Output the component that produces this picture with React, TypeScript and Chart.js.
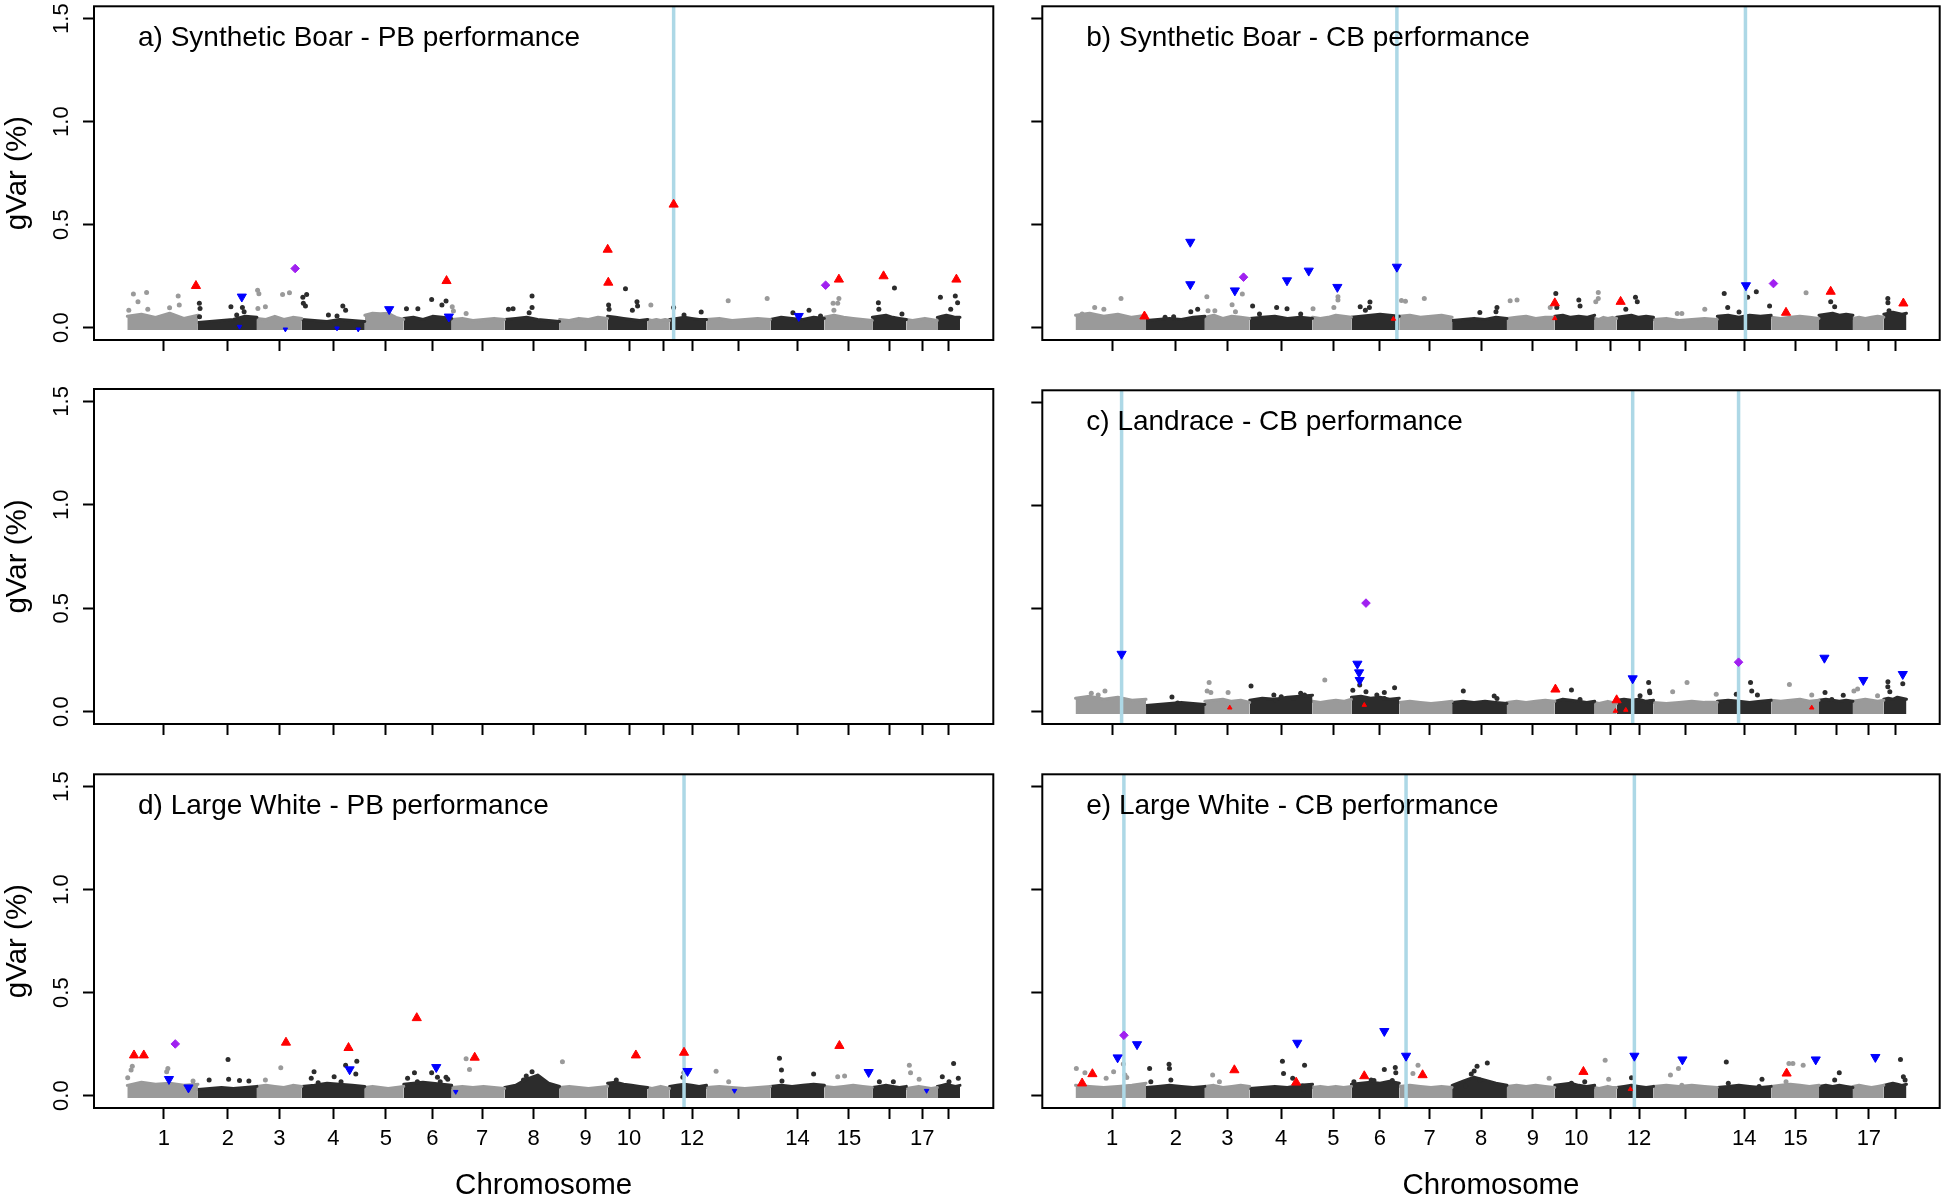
import React, { useEffect, useRef } from 'react';
import { Chart, registerables } from 'chart.js';

Chart.register(...registerables);

type Pt = [number, number];

const FONT = '"Liberation Sans", Arial, Helvetica, sans-serif';

// ---- axis definitions ----
const CHROMOSOMES = ['1', '2', '3', '4', '5', '6', '7', '8', '9', '10', '11', '12', '13', '14', '15', '16', '17', '18'];
// R drops the labels that would overlap
const AXIS_TICK_LABELS = ['1', '2', '3', '4', '5', '6', '7', '8', '9', '10', '', '12', '', '14', '15', '', '17', ''];
// relative chromosome lengths (marker-index scale)
const CHR_LENGTHS = [70.7, 59, 45, 63, 39, 48, 53, 55, 48, 40, 22, 37, 64, 54, 48, 34, 31, 22.7];
const CHR1_START = 33.3;
// tick position of each chromosome (mean marker position)
const CHR_TICK_POS = [70, 134, 185.5, 239.5, 292, 338.5, 388.5, 440, 492, 535.5, 570, 598.5, 645, 704, 755.5, 796.5, 829, 855.5];
const Y_TICKS = [0, 0.5, 1.0, 1.5];
const Y_TICK_LABELS = ['0.0', '0.5', '1.0', '1.5'];
const Y_LIMITS = [0, 1.5];

// ---- a) Synthetic Boar - PB performance ----
const A_UP: Pt[] = [[102.0, 0.203], [352.8, 0.227], [514.1, 0.379], [514.7, 0.219], [580.1, 0.598], [745.5, 0.234], [790.2, 0.250], [863.1, 0.234]];
const A_UP_SMALL: Pt[] = [];
const A_DOWN: Pt[] = [[147.9, 0.150], [295.4, 0.089], [705.3, 0.056], [355.1, 0.053]];
const A_DOWN_SMALL: Pt[] = [[145.6, 0.005], [191.5, -0.008], [243.2, -0.003], [264.4, -0.008]];
const A_DIAMOND: Pt[] = [[201.3, 0.287], [732.2, 0.206]];
const A_LINES = [580.1];
const A_DOTS: Pt[] = [
  [39.4, 0.163], [52.6, 0.171], [75.6, 0.097], [84.2, 0.153], [85.3, 0.110], [34.8, 0.085], [44.0, 0.126], [53.8, 0.089],
  [105.4, 0.118], [106.1, 0.093], [105.6, 0.053], [137.0, 0.101], [148.5, 0.098], [142.8, 0.061], [150.2, 0.077],
  [163.7, 0.182], [165.0, 0.164], [164.0, 0.093], [188.7, 0.161], [195.6, 0.169], [171.5, 0.101],
  [209.0, 0.147], [212.8, 0.161], [209.5, 0.118], [211.6, 0.105], [249.0, 0.105], [251.8, 0.085], [234.6, 0.061], [243.2, 0.056],
  [312.7, 0.092], [324.1, 0.092], [337.9, 0.137], [348.2, 0.110], [352.3, 0.129],
  [358.5, 0.101], [359.7, 0.081], [372.4, 0.069],
  [414.8, 0.089], [419.4, 0.092], [438.4, 0.153], [438.4, 0.098], [435.5, 0.072],
  [515.0, 0.110], [531.9, 0.189], [515.5, 0.089], [543.4, 0.126], [538.8, 0.085], [544.0, 0.105],
  [557.3, 0.110],
  [580.1, 0.098], [590.5, 0.061], [607.7, 0.076],
  [634.7, 0.130], [673.7, 0.142],
  [699.5, 0.072], [715.6, 0.085], [727.1, 0.056],
  [739.7, 0.118], [745.5, 0.142], [744.3, 0.118], [740.5, 0.085],
  [785.0, 0.121], [801.1, 0.193], [785.5, 0.089], [808.6, 0.066],
  [847.1, 0.148], [862.0, 0.153], [864.3, 0.121], [857.4, 0.089],
];
const A_BAND: number[][] = [
  [0.055, 0.065, 0.05, 0.07, 0.045, 0.06], [0.025, 0.03, 0.035, 0.04, 0.055, 0.05], [0.045, 0.04, 0.055, 0.04, 0.05, 0.045],
  [0.04, 0.035, 0.03, 0.04, 0.035, 0.03], [0.06, 0.07, 0.068, 0.07, 0.05, 0.04], [0.045, 0.05, 0.04, 0.055, 0.05, 0.045],
  [0.04, 0.045, 0.035, 0.04, 0.045, 0.04], [0.04, 0.045, 0.05, 0.04, 0.035, 0.03], [0.04, 0.035, 0.045, 0.04, 0.05, 0.045],
  [0.055, 0.05, 0.045, 0.04, 0.035, 0.04], [0.04, 0.035, 0.04, 0.035, 0.04, 0.035], [0.04, 0.045, 0.05, 0.045, 0.04, 0.04],
  [0.04, 0.045, 0.035, 0.04, 0.045, 0.04], [0.04, 0.05, 0.045, 0.04, 0.05, 0.045], [0.05, 0.06, 0.05, 0.045, 0.04, 0.035],
  [0.05, 0.055, 0.06, 0.05, 0.045, 0.04], [0.04, 0.035, 0.04, 0.045, 0.04, 0.035], [0.05, 0.055, 0.06, 0.055, 0.05, 0.05],
];

// ---- b) Synthetic Boar - CB performance ----
const B_UP: Pt[] = [[102.4, 0.055], [514.0, 0.119], [580.0, 0.126], [745.9, 0.073], [790.7, 0.175], [863.6, 0.118]];
const B_UP_SMALL: Pt[] = [[352.1, 0.042], [514.0, 0.045]];
const B_DOWN: Pt[] = [[148.4, 0.416], [148.4, 0.210], [193.1, 0.180], [245.4, 0.229], [267.2, 0.276], [295.9, 0.197], [355.6, 0.295], [705.7, 0.205]];
const B_DOWN_SMALL: Pt[] = [];
const B_DIAMOND: Pt[] = [[201.8, 0.245], [733.3, 0.214]];
const B_LINES = [355.6, 705.2];
const B_DOTS: Pt[] = [
  [78.9, 0.142], [52.5, 0.098], [61.7, 0.089], [39.9, 0.066],
  [148.9, 0.077], [155.8, 0.089], [123.1, 0.050], [131.7, 0.053],
  [165.0, 0.150], [173.0, 0.082], [166.2, 0.082], [190.3, 0.111], [200.6, 0.163], [193.7, 0.077],
  [210.9, 0.105], [217.8, 0.066], [235.0, 0.098], [245.4, 0.092], [259.1, 0.066],
  [271.5, 0.092], [296.5, 0.150], [296.5, 0.134], [292.4, 0.098],
  [328.6, 0.124], [318.8, 0.102], [328.0, 0.098], [324.0, 0.085],
  [360.2, 0.132], [364.2, 0.128], [383.1, 0.142],
  [438.8, 0.074], [456.0, 0.098], [455.0, 0.077],
  [469.2, 0.130], [476.1, 0.134], [509.4, 0.098],
  [515.0, 0.166], [538.1, 0.134], [539.3, 0.105], [516.0, 0.098],
  [557.6, 0.171], [557.6, 0.142], [555.1, 0.126],
  [594.9, 0.147], [596.7, 0.126], [585.2, 0.089],
  [636.8, 0.069], [641.4, 0.069], [664.4, 0.089],
  [683.9, 0.166], [716.1, 0.174], [707.4, 0.147], [729.4, 0.105], [687.4, 0.098], [698.8, 0.076],
  [766.0, 0.169],
  [790.7, 0.126], [794.7, 0.102], [787.8, 0.053],
  [848.0, 0.142], [848.1, 0.121], [849.2, 0.082],
];
const B_BAND: number[][] = [
  [0.06, 0.07, 0.055, 0.065, 0.05, 0.06], [0.035, 0.04, 0.045, 0.04, 0.05, 0.055], [0.05, 0.06, 0.045, 0.055, 0.05, 0.045],
  [0.045, 0.05, 0.055, 0.045, 0.05, 0.045], [0.05, 0.045, 0.05, 0.06, 0.055, 0.05], [0.05, 0.055, 0.06, 0.065, 0.06, 0.055],
  [0.055, 0.06, 0.05, 0.055, 0.06, 0.05], [0.035, 0.04, 0.045, 0.04, 0.05, 0.045], [0.045, 0.05, 0.055, 0.045, 0.05, 0.05],
  [0.055, 0.06, 0.05, 0.055, 0.05, 0.06], [0.045, 0.04, 0.05, 0.045, 0.05, 0.045], [0.05, 0.055, 0.06, 0.05, 0.055, 0.05],
  [0.04, 0.045, 0.035, 0.04, 0.045, 0.04], [0.055, 0.06, 0.05, 0.06, 0.055, 0.06], [0.05, 0.045, 0.05, 0.055, 0.05, 0.045],
  [0.06, 0.065, 0.07, 0.06, 0.065, 0.06], [0.045, 0.05, 0.045, 0.05, 0.055, 0.05], [0.065, 0.07, 0.075, 0.07, 0.065, 0.07],
];

// ---- c) Landrace - CB performance ----
const C_UP: Pt[] = [[514.6, 0.108], [576.0, 0.056]];
const C_UP_SMALL: Pt[] = [[188.0, 0.019], [322.9, 0.032], [574.8, 0.003], [585.2, 0.008], [771.7, 0.019]];
const C_DOWN: Pt[] = [[79.5, 0.280], [316.0, 0.232], [317.7, 0.190], [318.3, 0.153], [592.1, 0.161], [784.4, 0.261], [823.4, 0.153], [863.0, 0.182]];
const C_DOWN_SMALL: Pt[] = [];
const C_DIAMOND: Pt[] = [[324.6, 0.527], [698.3, 0.240]];
const C_LINES = [79.5, 592.1, 698.3];
const C_DOTS: Pt[] = [
  [49.1, 0.089], [56.0, 0.081], [62.8, 0.100],
  [130.0, 0.071], [135.7, 0.042],
  [165.3, 0.100], [167.3, 0.141], [169.0, 0.093], [186.3, 0.093],
  [209.3, 0.125], [232.2, 0.081], [233.9, 0.056], [239.6, 0.072], [252.3, 0.064], [259.1, 0.089], [263.0, 0.081],
  [283.3, 0.153],
  [311.4, 0.104], [318.3, 0.129], [324.6, 0.097], [335.5, 0.081], [343.0, 0.093], [343.0, 0.064], [353.3, 0.116],
  [422.2, 0.100], [453.2, 0.076], [456.0, 0.064],
  [530.7, 0.105], [539.3, 0.059],
  [599.5, 0.077], [608.1, 0.142], [609.3, 0.092], [609.0, 0.100], [609.5, 0.048],
  [632.2, 0.097], [646.6, 0.142], [675.9, 0.084],
  [696.0, 0.084], [710.3, 0.142], [711.5, 0.100], [717.2, 0.081],
  [749.3, 0.132], [771.7, 0.081],
  [785.0, 0.093], [791.8, 0.059], [803.3, 0.080],
  [814.0, 0.100], [817.7, 0.110], [837.7, 0.077],
  [848.0, 0.121], [848.1, 0.145], [850.0, 0.097], [863.0, 0.135],
];
const C_BAND: number[][] = [
  [0.065, 0.075, 0.06, 0.07, 0.055, 0.06], [0.03, 0.035, 0.04, 0.045, 0.04, 0.035], [0.05, 0.055, 0.06, 0.05, 0.055, 0.045],
  [0.055, 0.065, 0.06, 0.07, 0.075, 0.08], [0.05, 0.045, 0.05, 0.055, 0.05, 0.06], [0.07, 0.075, 0.065, 0.07, 0.06, 0.065],
  [0.045, 0.05, 0.045, 0.04, 0.045, 0.05], [0.045, 0.05, 0.045, 0.05, 0.045, 0.04], [0.045, 0.05, 0.045, 0.05, 0.055, 0.05],
  [0.05, 0.06, 0.055, 0.05, 0.045, 0.05], [0.045, 0.04, 0.045, 0.05, 0.045, 0.04], [0.055, 0.06, 0.055, 0.06, 0.05, 0.055],
  [0.045, 0.04, 0.045, 0.05, 0.045, 0.045], [0.05, 0.055, 0.05, 0.045, 0.05, 0.055], [0.055, 0.05, 0.055, 0.06, 0.05, 0.055],
  [0.055, 0.06, 0.055, 0.05, 0.055, 0.05], [0.05, 0.055, 0.06, 0.055, 0.05, 0.055], [0.06, 0.065, 0.06, 0.07, 0.065, 0.06],
];

// ---- d) Large White - PB performance ----
const D_UP: Pt[] = [[40.0, 0.196], [49.8, 0.196], [192.1, 0.258], [254.7, 0.232], [323.0, 0.377], [381.0, 0.185], [542.3, 0.196], [590.5, 0.209], [746.0, 0.242]];
const D_UP_SMALL: Pt[] = [];
const D_DOWN: Pt[] = [[75.0, 0.080], [94.5, 0.039], [255.8, 0.127], [342.5, 0.138], [594.0, 0.119], [775.3, 0.114]];
const D_DOWN_SMALL: Pt[] = [[362.0, 0.019], [641.0, 0.024], [833.3, 0.024]];
const D_DIAMOND: Pt[] = [[81.3, 0.251]];
const D_LINES = [590.5];
const D_DOTS: Pt[] = [
  [38.3, 0.143], [37.1, 0.124], [33.7, 0.087], [73.9, 0.132], [72.7, 0.116], [99.1, 0.071],
  [134.1, 0.176], [115.2, 0.076], [134.7, 0.079], [145.6, 0.073], [155.0, 0.071],
  [186.9, 0.135], [171.5, 0.076],
  [220.2, 0.116], [217.4, 0.084], [224.3, 0.063], [251.8, 0.148], [263.0, 0.167], [262.0, 0.105], [240.3, 0.092], [247.2, 0.068],
  [313.8, 0.084], [320.7, 0.111], [337.9, 0.111], [343.7, 0.089], [352.3, 0.089], [354.0, 0.079], [346.5, 0.068], [323.6, 0.068],
  [372.4, 0.179], [375.8, 0.127],
  [438.4, 0.116], [432.6, 0.095], [429.8, 0.076],
  [468.8, 0.164],
  [522.7, 0.076],
  [590.5, 0.111], [589.3, 0.089],
  [622.6, 0.119], [635.2, 0.068],
  [686.0, 0.182], [688.0, 0.124], [688.5, 0.071], [720.2, 0.105],
  [744.3, 0.092], [751.2, 0.095],
  [786.0, 0.068], [800.0, 0.068],
  [816.0, 0.148], [817.2, 0.111], [825.8, 0.079],
  [860.3, 0.156], [865.0, 0.084], [849.0, 0.092], [855.7, 0.068],
];
const D_BAND: number[][] = [
  [0.05, 0.065, 0.055, 0.06, 0.05, 0.055], [0.03, 0.035, 0.04, 0.035, 0.04, 0.045], [0.045, 0.05, 0.045, 0.04, 0.05, 0.045],
  [0.045, 0.05, 0.06, 0.055, 0.05, 0.045], [0.04, 0.045, 0.04, 0.035, 0.04, 0.045], [0.055, 0.06, 0.065, 0.06, 0.055, 0.05],
  [0.04, 0.045, 0.04, 0.045, 0.04, 0.035], [0.04, 0.05, 0.08, 0.1, 0.06, 0.045], [0.04, 0.045, 0.04, 0.035, 0.04, 0.045],
  [0.06, 0.065, 0.055, 0.05, 0.045, 0.04], [0.04, 0.035, 0.04, 0.045, 0.04, 0.035], [0.045, 0.05, 0.055, 0.05, 0.045, 0.05],
  [0.04, 0.045, 0.04, 0.035, 0.04, 0.045], [0.045, 0.05, 0.045, 0.05, 0.055, 0.05], [0.045, 0.04, 0.045, 0.05, 0.045, 0.04],
  [0.04, 0.045, 0.05, 0.045, 0.04, 0.045], [0.035, 0.04, 0.045, 0.04, 0.035, 0.04], [0.045, 0.05, 0.055, 0.05, 0.045, 0.05],
];

// ---- e) Large White - CB performance ----
const E_UP: Pt[] = [[39.9, 0.060], [50.2, 0.105], [192.6, 0.124], [254.6, 0.064], [322.9, 0.095], [381.4, 0.100], [542.7, 0.116], [746.5, 0.108]];
const E_UP_SMALL: Pt[] = [[589.8, 0.031]];
const E_DOWN: Pt[] = [[75.5, 0.185], [95.0, 0.249], [255.7, 0.256], [343.0, 0.313], [364.8, 0.193], [593.8, 0.193], [642.0, 0.175], [775.7, 0.175], [835.5, 0.187]];
const E_DOWN_SMALL: Pt[] = [];
const E_DIAMOND: Pt[] = [[81.8, 0.293]];
const E_LINES = [81.8, 364.8, 593.8];
const E_DOTS: Pt[] = [
  [34.1, 0.132], [42.7, 0.111], [64.0, 0.084], [71.5, 0.116], [81.2, 0.153], [82.9, 0.100], [84.7, 0.088],
  [107.6, 0.132], [127.1, 0.152], [127.5, 0.132], [128.9, 0.076], [108.8, 0.068],
  [170.8, 0.100], [177.6, 0.068],
  [240.8, 0.167], [241.9, 0.108], [251.1, 0.084], [263.0, 0.148], [260.9, 0.047], [262.0, 0.031],
  [312.5, 0.068], [329.8, 0.076], [343.0, 0.127], [332.6, 0.073], [351.0, 0.073], [354.0, 0.137], [354.5, 0.111],
  [376.8, 0.148], [371.7, 0.108],
  [430.2, 0.105], [436.0, 0.143], [446.3, 0.159], [433.1, 0.120], [438.8, 0.076], [424.5, 0.047],
  [508.3, 0.084],
  [530.7, 0.060], [544.0, 0.068],
  [564.5, 0.172], [568.0, 0.080],
  [590.9, 0.087],
  [630.0, 0.100], [638.0, 0.132], [641.4, 0.051],
  [686.0, 0.163], [721.8, 0.079], [718.9, 0.044], [688.0, 0.060],
  [748.8, 0.156], [752.8, 0.156], [763.1, 0.148], [745.9, 0.068],
  [799.3, 0.111], [794.7, 0.076],
  [860.7, 0.175], [863.6, 0.092], [865.3, 0.076],
];
const E_BAND: number[][] = [
  [0.05, 0.045, 0.04, 0.045, 0.05, 0.06], [0.04, 0.045, 0.05, 0.045, 0.04, 0.045], [0.045, 0.05, 0.04, 0.045, 0.05, 0.045],
  [0.035, 0.04, 0.045, 0.04, 0.05, 0.055], [0.04, 0.045, 0.04, 0.045, 0.04, 0.045], [0.055, 0.06, 0.065, 0.06, 0.07, 0.06],
  [0.045, 0.05, 0.045, 0.04, 0.045, 0.04], [0.05, 0.07, 0.09, 0.075, 0.06, 0.05], [0.045, 0.05, 0.045, 0.05, 0.045, 0.04],
  [0.05, 0.055, 0.06, 0.05, 0.045, 0.05], [0.04, 0.035, 0.04, 0.045, 0.04, 0.04], [0.04, 0.045, 0.05, 0.045, 0.04, 0.045],
  [0.045, 0.05, 0.045, 0.05, 0.045, 0.04], [0.04, 0.045, 0.05, 0.045, 0.04, 0.045], [0.045, 0.05, 0.055, 0.05, 0.045, 0.05],
  [0.045, 0.05, 0.045, 0.05, 0.045, 0.04], [0.045, 0.05, 0.045, 0.04, 0.045, 0.05], [0.05, 0.055, 0.06, 0.055, 0.05, 0.055],
];

interface PanelData {
  up: Pt[]; upSmall: Pt[]; down: Pt[]; downSmall: Pt[]; diamond: Pt[]; lines: number[]; dots: Pt[]; band: number[][];
}
const PANEL_A: PanelData = { up: A_UP, upSmall: A_UP_SMALL, down: A_DOWN, downSmall: A_DOWN_SMALL, diamond: A_DIAMOND, lines: A_LINES, dots: A_DOTS, band: A_BAND };
const PANEL_B: PanelData = { up: B_UP, upSmall: B_UP_SMALL, down: B_DOWN, downSmall: B_DOWN_SMALL, diamond: B_DIAMOND, lines: B_LINES, dots: B_DOTS, band: B_BAND };
const PANEL_C: PanelData = { up: C_UP, upSmall: C_UP_SMALL, down: C_DOWN, downSmall: C_DOWN_SMALL, diamond: C_DIAMOND, lines: C_LINES, dots: C_DOTS, band: C_BAND };
const PANEL_D: PanelData = { up: D_UP, upSmall: D_UP_SMALL, down: D_DOWN, downSmall: D_DOWN_SMALL, diamond: D_DIAMOND, lines: D_LINES, dots: D_DOTS, band: D_BAND };
const PANEL_E: PanelData = { up: E_UP, upSmall: E_UP_SMALL, down: E_DOWN, downSmall: E_DOWN_SMALL, diamond: E_DIAMOND, lines: E_LINES, dots: E_DOTS, band: E_BAND };

const PANELS = [
  { row: 0, col: 0, title: 'a) Synthetic Boar - PB performance', data: PANEL_A as PanelData | null },
  { row: 0, col: 1, title: 'b) Synthetic Boar - CB performance', data: PANEL_B },
  { row: 1, col: 0, title: '', data: null },
  { row: 1, col: 1, title: 'c) Landrace - CB performance', data: PANEL_C },
  { row: 2, col: 0, title: 'd) Large White - PB performance', data: PANEL_D },
  { row: 2, col: 1, title: 'e) Large White - CB performance', data: PANEL_E },
];

// ---- derived geometry of the genome axis ----
const CHR_STARTS: number[] = [];
{
  let acc = CHR1_START;
  for (const l of CHR_LENGTHS) { CHR_STARTS.push(acc); acc += l; }
}
const GENOME_END = CHR_STARTS[17] + CHR_LENGTHS[17];
const X_PAD = 0.04 * (GENOME_END - CHR1_START);
const X_MIN = CHR1_START - X_PAD;
const X_MAX = GENOME_END + X_PAD;
const Y_PAD = 0.04 * (Y_LIMITS[1] - Y_LIMITS[0]);
const Y_MIN = Y_LIMITS[0] - Y_PAD;
const Y_MAX = Y_LIMITS[1] + Y_PAD;

// ---- styling ----
const GREY = '#9a9a9a';
const DARK = '#2c2c2c';
const RED = '#ff0000';
const BLUE = '#0000ff';
const PURPLE = '#a020f0';
const LINE_BLUE = '#add8e6';
const BAND_BASE = -0.011;

const COL_LEFT = [0, 1000];
const COL_WIDTH = [1000, 946];
const ROW_TOP = [0, 384, 768];
const ROW_HEIGHT = [384, 384, 429];
const Y_AXIS_WIDTH = [94, 42.3];
const RIGHT_PAD = [6.7, 3.3];
const X_AXIS_HEIGHT = [44, 44, 89];

const chrIndexAt = (x: number) => {
  for (let c = 0; c < CHR_STARTS.length; c++) if (x < CHR_STARTS[c] + CHR_LENGTHS[c]) return c;
  return CHR_STARTS.length - 1;
};
const chrColor = (c: number) => (c % 2 === 0 ? GREY : DARK);
const toXY = (pts: Pt[]) => pts.map(([x, y]) => ({ x, y }));

function buildDatasets(p: PanelData | null): any[] {
  if (!p) return [];
  const ds: any[] = [];
  p.band.forEach((heights, c) => {
    const start = CHR_STARTS[c];
    const len = CHR_LENGTHS[c];
    const n = heights.length;
    const color = chrColor(c);
    ds.push({
      data: heights.map((h, k) => ({ x: start + (k / (n - 1)) * len, y: h })),
      showLine: true, borderColor: color, backgroundColor: color, borderWidth: 3,
      borderJoinStyle: 'round', borderCapStyle: 'round', pointRadius: 0, tension: 0,
      fill: { value: BAND_BASE }, order: 5,
    });
  });
  ds.push({
    data: toXY(p.dots), showLine: false, pointRadius: 2.5, pointBorderWidth: 0,
    pointBackgroundColor: p.dots.map(([x]) => chrColor(chrIndexAt(x))), order: 4,
  });
  p.lines.forEach((x) => {
    ds.push({
      data: [{ x, y: Y_MIN }, { x, y: Y_MAX }], showLine: true, borderColor: LINE_BLUE,
      borderWidth: 3.5, pointRadius: 0, fill: false, order: 3,
    });
  });
  const marker = (pts: Pt[], style: string, rot: number, color: string, r: number) => ({
    data: toXY(pts), showLine: false, pointStyle: style, pointRotation: rot, pointRadius: r,
    pointBackgroundColor: color, pointBorderColor: color, pointBorderWidth: 1, order: 1,
  });
  ds.push(marker(p.upSmall, 'triangle', 0, RED, 2.6));
  ds.push(marker(p.downSmall, 'triangle', 180, BLUE, 2.6));
  ds.push(marker(p.up, 'triangle', 0, RED, 5.3));
  ds.push(marker(p.down, 'triangle', 180, BLUE, 5.3));
  ds.push(marker(p.diamond, 'rectRot', 0, PURPLE, 4.3));
  return ds;
}

const decorPlugin = {
  id: 'decor',
  afterDatasetsDraw(chart: any, _args: any, opts: any) {
    const { ctx, chartArea: a } = chart;
    ctx.save();
    ctx.strokeStyle = '#000';
    ctx.lineWidth = 2;
    ctx.strokeRect(a.left, a.top, a.right - a.left, a.bottom - a.top);
    ctx.fillStyle = '#000';
    ctx.textBaseline = 'alphabetic';
    if (opts.title) {
      ctx.font = `28px ${FONT}`;
      ctx.textAlign = 'left';
      ctx.fillText(opts.title, a.left + 44, a.top + 40);
    }
    if (opts.yLabels) {
      const ys = chart.scales.y;
      ctx.font = `22px ${FONT}`;
      ctx.textAlign = 'center';
      Y_TICKS.forEach((v, i) => {
        const py = ys.getPixelForValue(v);
        ctx.save();
        ctx.translate(a.left - 26.5, py);
        ctx.rotate(-Math.PI / 2);
        ctx.fillText(Y_TICK_LABELS[i], 0, 0);
        ctx.restore();
      });
      ctx.font = `29.5px ${FONT}`;
      ctx.save();
      ctx.translate(26, (a.top + a.bottom) / 2);
      ctx.rotate(-Math.PI / 2);
      ctx.fillText('gVar (%)', 0, 0);
      ctx.restore();
    }
    if (opts.xTitle) {
      ctx.font = `29.5px ${FONT}`;
      ctx.textAlign = 'center';
      ctx.fillText('Chromosome', (a.left + a.right) / 2, a.bottom + 86);
    }
    ctx.restore();
  },
};

function Panel({ row, col, title, data }: { row: number; col: number; title: string; data: PanelData | null }) {
  const ref = useRef<HTMLCanvasElement>(null);
  useEffect(() => {
    if (!ref.current) return;
    const bottomRow = row === 2;
    const chart = new Chart(ref.current, {
      type: 'line',
      data: { datasets: buildDatasets(data) },
      plugins: [decorPlugin as any],
      options: {
        animation: false,
        responsive: false,
        maintainAspectRatio: false,
        devicePixelRatio: 1,
        events: [],
        layout: { padding: { top: 5, right: RIGHT_PAD[col], left: 0, bottom: 0 } },
        plugins: {
          legend: { display: false },
          tooltip: { enabled: false },
          decor: { title, yLabels: col === 0, xTitle: bottomRow },
        } as any,
        scales: {
          x: {
            type: 'linear',
            min: X_MIN,
            max: X_MAX,
            afterBuildTicks: (s: any) => { s.ticks = CHR_TICK_POS.map((v) => ({ value: v })); },
            afterFit: (s: any) => { s.height = X_AXIS_HEIGHT[row]; },
            ticks: {
              autoSkip: false, maxRotation: 0, minRotation: 0, padding: 7, color: '#000',
              font: { size: 22, family: FONT },
              callback: (_v: any, i: number) => (bottomRow ? AXIS_TICK_LABELS[i] : ''),
            },
            grid: { drawOnChartArea: false, drawTicks: true, tickLength: 11, tickWidth: 2, tickColor: '#000', color: '#000' },
            border: { display: false },
          },
          y: {
            type: 'linear',
            min: Y_MIN,
            max: Y_MAX,
            afterBuildTicks: (s: any) => { s.ticks = Y_TICKS.map((v) => ({ value: v })); },
            afterFit: (s: any) => { s.width = Y_AXIS_WIDTH[col]; },
            ticks: { display: false },
            grid: { drawOnChartArea: false, drawTicks: true, tickLength: 11, tickWidth: 2, tickColor: '#000', color: '#000' },
            border: { display: false },
          },
        },
      } as any,
    });
    return () => chart.destroy();
  }, [row, col, title, data]);
  return (
    <canvas
      ref={ref}
      width={COL_WIDTH[col]}
      height={ROW_HEIGHT[row]}
      style={{ position: 'absolute', left: COL_LEFT[col], top: ROW_TOP[row], width: COL_WIDTH[col], height: ROW_HEIGHT[row] }}
    />
  );
}

export default function App() {
  useEffect(() => {
    document.body.style.margin = '0';
    document.body.style.background = '#fff';
  }, []);
  return (
    <div style={{ position: 'relative', width: 1946, height: 1197, background: '#fff', overflow: 'hidden' }}>
      {PANELS.map((p, i) => (
        <Panel key={i} row={p.row} col={p.col} title={p.title} data={p.data} />
      ))}
    </div>
  );
}

export { CHROMOSOMES };
